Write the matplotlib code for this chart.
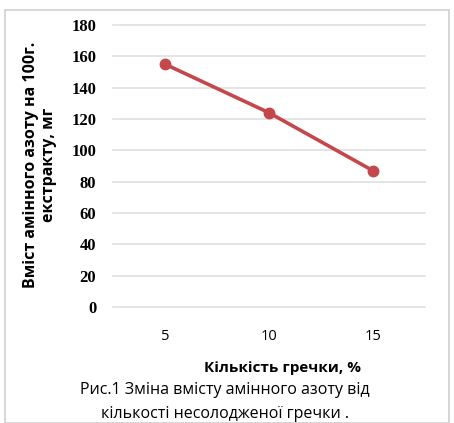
import matplotlib
matplotlib.use("Agg")
import matplotlib.pyplot as plt
from matplotlib.patches import Rectangle

# data
buckwheat_pct = ["5", "10", "15"]
amine_nitrogen = [155, 124, 87]
y_ticks = [0, 20, 40, 60, 80, 100, 120, 140, 160, 180]

ylabel = "Вміст амінного азоту на 100г.\nекстракту, мг"
xlabel = "Кількість гречки, %"
caption = "Рис.1 Зміна вмісту амінного азоту від\nкількості несолодженої гречки ."

line_color = "#C4474C"
grid_color = "#DCDCDC"

fig = plt.figure(figsize=(4.54, 4.23), dpi=100)
fig.patches.append(Rectangle((5 / 454, 0), 444 / 454, 1 - 10 / 423,
                             transform=fig.transFigure, fill=False,
                             edgecolor="#D0D0D0", linewidth=1.2))

ax = fig.add_axes([113 / 454, 1 - 307 / 423, 312 / 454, 282 / 423])
x = list(range(len(buckwheat_pct)))
ax.plot(x, amine_nitrogen, color=line_color, linewidth=2.6,
        marker="o", markersize=7.5, markerfacecolor=line_color,
        markeredgecolor=line_color)

ax.set_xlim(-0.5, len(buckwheat_pct) - 0.5)
ax.set_ylim(0, 180)
ax.set_yticks(y_ticks)
ax.set_xticks(x)
ax.set_xticklabels(buckwheat_pct)
ax.yaxis.grid(True, color=grid_color, linewidth=1.1, clip_on=False)
ax.set_axisbelow(True)
for s in ax.spines.values():
    s.set_visible(False)
ax.tick_params(axis="both", length=0)
ax.tick_params(axis="y", pad=12)
ax.tick_params(axis="x", pad=16)
for lbl in ax.get_yticklabels():
    lbl.set_fontfamily("Liberation Serif")
    lbl.set_fontweight("bold")
    lbl.set_fontsize(12)
for lbl in ax.get_xticklabels():
    lbl.set_fontfamily("Open Sans")
    lbl.set_fontsize(10.5)

fig.text(40 / 454, 1 - 165 / 423, ylabel, rotation=90, ha="center", va="center",
         fontsize=11.5, fontweight="bold", family="Open Sans", linespacing=1.15)
fig.text(282 / 454, 1 - 368 / 423, xlabel, ha="center", va="center",
         fontsize=11, fontweight="bold", family="Open Sans")
fig.text(225 / 454, 1 - 390 / 423, caption.split("\n")[0], ha="center", va="center",
         fontsize=11.5, family="Open Sans")
fig.text(225 / 454, 1 - 414 / 423, caption.split("\n")[1], ha="center", va="center",
         fontsize=11.5, family="Open Sans")

fig.savefig("out.png", dpi=100, facecolor="white")
